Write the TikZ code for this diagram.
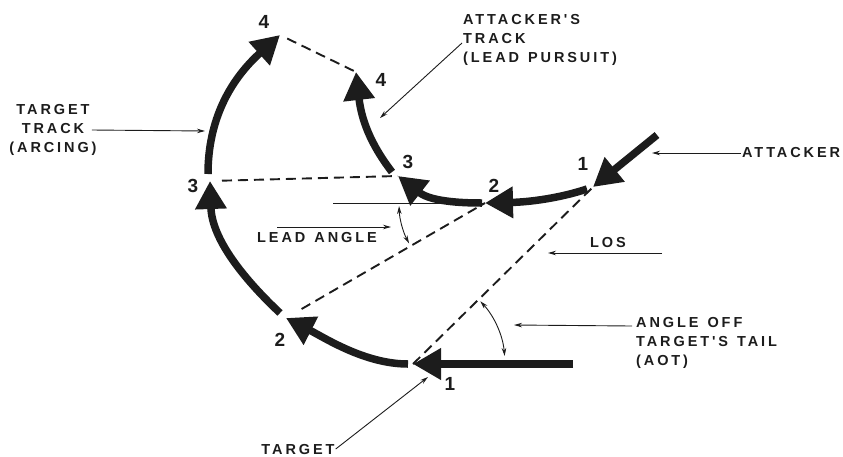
\documentclass[tikz,border=0pt]{standalone}
\usepackage{fontspec}
\setmainfont{Liberation Sans}
\newfontfamily\lblfont{Liberation Sans}[LetterSpace=20,WordSpace=1.3]
\usetikzlibrary{arrows.meta,calc}
\definecolor{ink}{RGB}{28,28,28}
\begin{document}
\begin{tikzpicture}[x=1pt,y=-1pt,
  track/.style={draw=ink,line width=7.5pt,-{Triangle[length=28pt,width=30pt]}},
  leader/.style={draw=ink,line width=0.9pt,-{Stealth[length=8pt,width=4.5pt]}},
  twoway/.style={draw=ink,line width=0.9pt,{Stealth[length=8pt,width=4.5pt]}-{Stealth[length=8pt,width=4.5pt]}},
  dashline/.style={draw=ink,line width=1.9pt,dash pattern=on 10pt off 6pt},
  thinline/.style={draw=ink,line width=1pt},
  lbl/.style={text=ink,inner sep=1pt,font=\lblfont\bfseries\fontsize{14.5}{19}\selectfont},
  num/.style={text=ink,inner sep=0pt,font=\bfseries\fontsize{19}{19}\selectfont}]
\useasboundingbox (0,0) rectangle (843,456);

% target track points
\coordinate (t0) at (573,364);
\coordinate (t1) at (413,364);
\coordinate (t1s) at (408,364);
\coordinate (t2) at (286,318);
\coordinate (t2s) at (280,313);
\coordinate (t3) at (210,181);
\coordinate (t3s) at (208,174);
\coordinate (t4) at (280,35);
% attacker track points
\coordinate (a0) at (657,135);
\coordinate (a1) at (593,187);
\coordinate (a1s) at (587,189);
\coordinate (a2) at (485,203);
\coordinate (a2s) at (482,203);
\coordinate (a3) at (398,176);
\coordinate (a3s) at (392,172);
\coordinate (a4) at (356,72);

% dashed sight lines
\draw[dashline] ($(t4)!8pt!(a4)$) -- (a4);
\draw[dashline] ($(t3)!12pt!(a3)$) -- (a3);
\draw[dashline] ($(t2)!18pt!(a2)$) -- (a2);
\draw[dashline] (t1) -- (a1);

% lead angle reference line
\coordinate (lref) at (333,203);
\draw[thinline] (lref) -- (a2);

% target track
\draw[track] (t0) -- (t1);
\draw[track] (t1s) .. controls (365,364) and (325,338) .. (t2);
\draw[track] (t2s) .. controls (245,280) and (212,240) .. (t3);
\draw[track] (t3s) .. controls (208,120) and (230,80) .. (t4);

% attacker track
\draw[track] (a0) -- (a1);
\draw[track] (a1s) .. controls (560,198) and (530,202) .. (a2);
\draw[track] (a2s) .. controls (440,203) and (425,197) .. (a3);
\draw[track] (a3s) .. controls (375,150) and (362,125) .. (a4);

% numbers
\node[num] (nt1) at (450,384) {1};
\node[num] (nt2) at (280,340) {2};
\node[num] (nt3) at (193,186) {3};
\node[num] (nt4) at (264,22) {4};
\node[num] (na1) at (583,164) {1};
\node[num] (na2) at (494,186) {2};
\node[num] (na3) at (408,162) {3};
\node[num] (na4) at (381,80) {4};

% angle arcs
\draw[twoway] (a2) ++(178:86) arc[start angle=178,end angle=152,radius=86];
\draw[twoway] (t1) ++(-43:92) arc[start angle=-43,end angle=-5,radius=92];

% labels
\node[lbl,align=center] (ttrack) at (53,130) {TARGET\\TRACK\\(ARCING)};
\coordinate (ttp) at (205,131);
\draw[leader] ([xshift=-6pt]ttrack.east) -- (ttp);

\node[lbl,align=left,anchor=west] (atrack) at (462,40) {ATTACKER'S\\TRACK\\(LEAD PURSUIT)};
\coordinate (atp) at (380,118);
\draw[leader] ([yshift=-3pt]atrack.west) -- (atp);

\node[lbl,anchor=west] (att) at (741,153) {ATTACKER};
\coordinate (attp) at (652,153);
\draw[leader] (att.west) -- (attp);

\node[lbl] (lead) at (317,238) {LEAD ANGLE};
\coordinate (leadl) at (277,227);
\coordinate (leadr) at (391,227);
\draw[leader] (leadl) -- (leadr);

\node[lbl] (los) at (608,243) {LOS};
\coordinate (losr) at (662,253);
\coordinate (losl) at (548,253);
\draw[leader] (losr) -- (losl);

\node[lbl,align=left,anchor=west] (aot) at (635,343) {ANGLE OFF\\TARGET'S TAIL\\(AOT)};
\coordinate (aotr) at (632,326);
\coordinate (aotl) at (514,325);
\draw[leader] (aotr) -- (aotl);

\node[lbl] (tgt) at (298,449) {TARGET};
\coordinate (tgtp) at (428,377);
\draw[leader] (tgt.east) -- (tgtp);
\end{tikzpicture}
\end{document}
